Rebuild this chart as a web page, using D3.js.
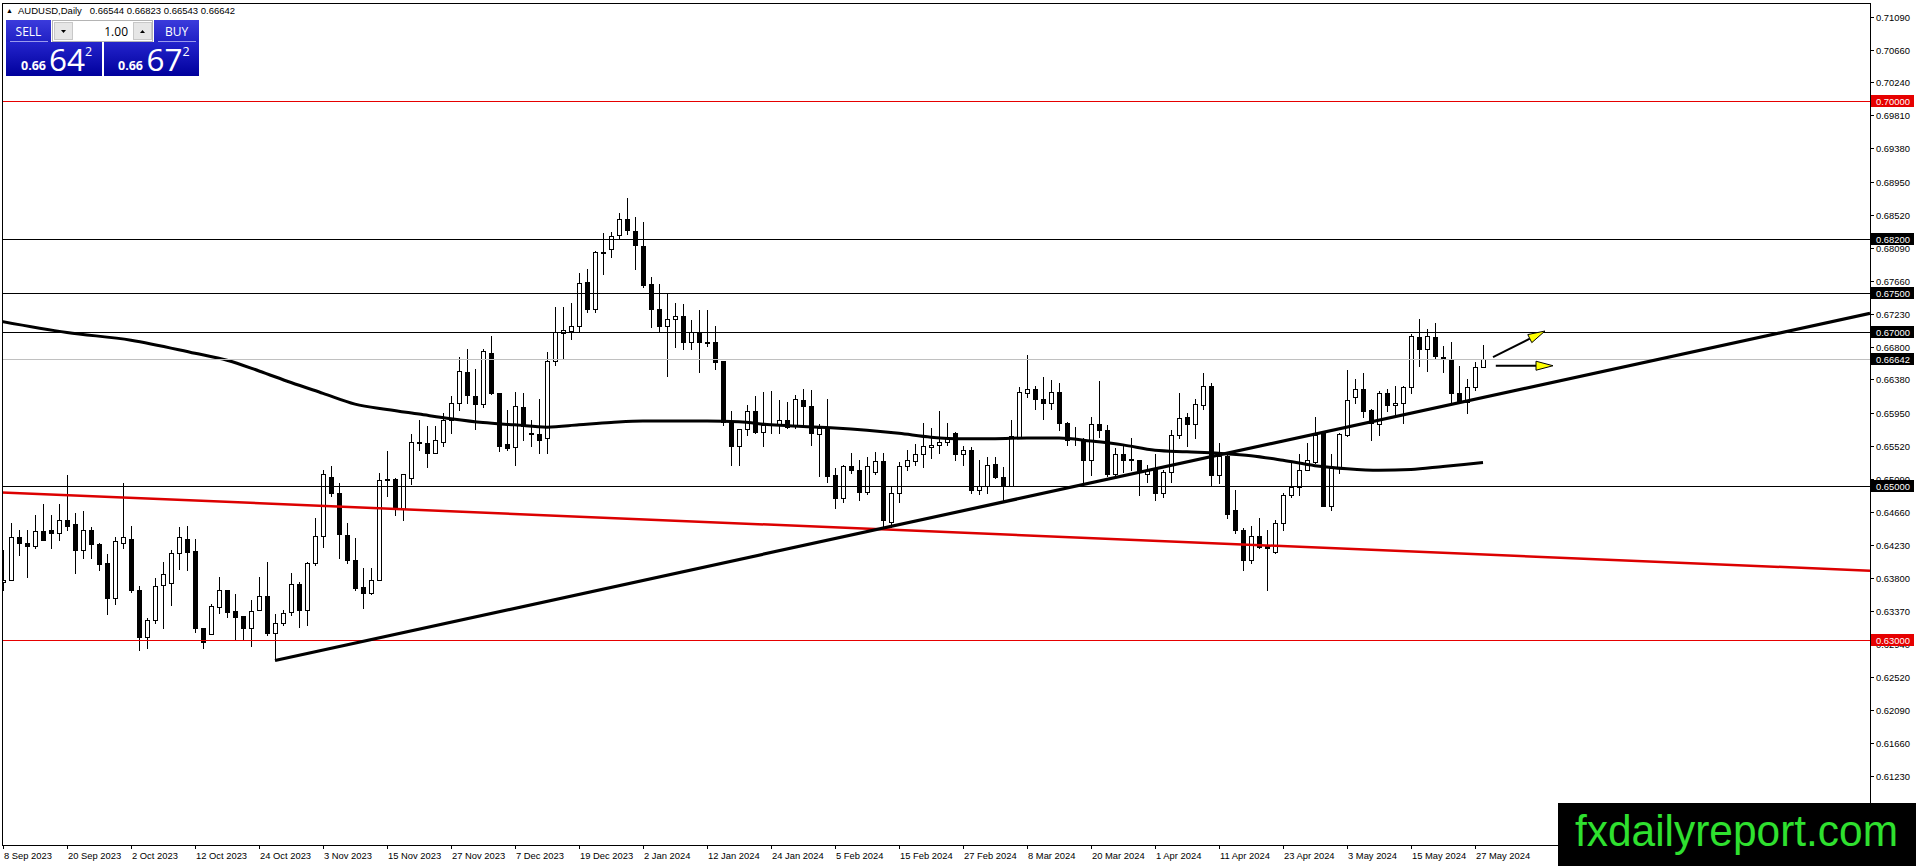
<!DOCTYPE html>
<html lang="en">
<head>
<meta charset="UTF-8">
<title>AUDUSD,Daily</title>
<script src="https://d3js.org/d3.v7.min.js"></script>
<style>
  body { margin: 0; background: #fff; overflow: hidden; }
  svg { display: block; font-family: "Liberation Sans", Arial, sans-serif; }
</style>
</head>
<body>
<svg id="chart" width="1916" height="866"></svg>
<script>
// daily candles, first bar = 8 Sep 2023, last bar = 28 May 2024
const opens = [
  0.6375,0.6378,0.6434,0.6426,0.6422,0.6441,0.6443,0.6438,0.6455,0.6450,0.6417,0.6442,0.6424,0.6399,0.6354,0.6426,
  0.6431,0.6364,0.6303,0.6325,0.6371,0.6374,0.6412,0.6431,0.6415,0.6315,0.6308,0.6342,0.6365,0.6337,0.6331,0.6315,
  0.6338,0.6357,0.6309,0.6322,0.6336,0.6372,0.6338,0.6400,0.6435,0.6511,0.6491,0.6436,0.6404,0.6368,0.6361,0.6378,
  0.6507,0.6509,0.6470,0.6510,0.6557,0.6556,0.6543,0.6557,0.6585,0.6607,0.6648,0.6616,0.6606,0.6672,0.6620,0.6554,
  0.6550,0.6602,0.6569,0.6567,0.6562,0.6662,0.6698,0.6701,0.6707,0.6764,0.6730,0.6803,0.6807,0.6826,0.6846,0.6831,
  0.6811,0.6762,0.6730,0.6708,0.6716,0.6721,0.6686,0.6700,0.6687,0.6686,0.6662,0.6584,0.6552,0.6573,0.6597,0.6570,
  0.6579,0.6579,0.6585,0.6577,0.6611,0.6604,0.6567,0.6576,0.6514,0.6484,0.6525,0.6521,0.6492,0.6518,0.6532,0.6453,
  0.6491,0.6526,0.6532,0.6541,0.6550,0.6553,0.6557,0.6568,0.6541,0.6546,0.6495,0.6499,0.6528,0.6511,0.6500,0.6563,
  0.6620,0.6625,0.6613,0.6607,0.6622,0.6582,0.6562,0.6559,0.6533,0.6580,0.6572,0.6515,0.6541,0.6535,0.6533,0.6515,
  0.6523,0.6490,0.6518,0.6566,0.6589,0.6580,0.6605,0.6629,0.6514,0.6539,0.6468,0.6443,0.6403,0.6435,0.6422,0.6414,
  0.6451,0.6488,0.6498,0.6520,0.6531,0.6568,0.6474,0.6523,0.6566,0.6615,0.6625,0.6598,0.6580,0.6620,0.6605,0.6608,
  0.6628,0.6693,0.6678,0.6693,0.6667,0.6665,0.6620,0.6609,0.6628,0.66544
];
const highs = [
  0.6417,0.6451,0.6442,0.6442,0.6462,0.6476,0.6462,0.6476,0.6514,0.6464,0.6467,0.6447,0.6426,0.6411,0.6434,0.6504,
  0.6448,0.6370,0.6328,0.6380,0.6401,0.6417,0.6446,0.6448,0.6431,0.6315,0.6347,0.6382,0.6365,0.6359,0.6331,0.6352,
  0.6382,0.6401,0.6333,0.6338,0.6386,0.6375,0.6401,0.6458,0.6520,0.6525,0.6504,0.6451,0.6432,0.6393,0.6393,0.6516,
  0.6545,0.6510,0.6515,0.6567,0.6585,0.6577,0.6577,0.6594,0.6616,0.6667,0.6677,0.6652,0.6677,0.6694,0.6621,0.6598,
  0.6622,0.6621,0.6585,0.6612,0.6674,0.6732,0.6732,0.6737,0.6776,0.6781,0.6805,0.6828,0.6829,0.6854,0.6873,0.6849,
  0.6842,0.6771,0.6762,0.6750,0.6737,0.6736,0.6715,0.6728,0.6728,0.6707,0.6662,0.6597,0.6574,0.6605,0.6616,0.6622,
  0.6623,0.6611,0.6609,0.6618,0.6626,0.6624,0.6580,0.6613,0.6523,0.6527,0.6542,0.6533,0.6537,0.6544,0.6542,0.6499,
  0.6531,0.6546,0.6554,0.6581,0.6575,0.6597,0.6582,0.6570,0.6551,0.6550,0.6533,0.6537,0.6537,0.6524,0.6585,0.6628,
  0.6670,0.6630,0.6641,0.6637,0.6634,0.6583,0.6576,0.6562,0.6589,0.6636,0.6579,0.6549,0.6551,0.6562,0.6533,0.6527,
  0.6541,0.6520,0.6572,0.6620,0.6594,0.6613,0.6646,0.6633,0.6555,0.6544,0.6495,0.6445,0.6448,0.6458,0.6442,0.6456,
  0.6491,0.6529,0.6541,0.6556,0.6589,0.6570,0.6541,0.6569,0.6650,0.6639,0.6646,0.6600,0.6623,0.6625,0.6629,0.6630,
  0.6697,0.6716,0.6704,0.6711,0.6681,0.6687,0.6655,0.6638,0.6661,0.66823
];
const lows = [
  0.6365,0.6377,0.6410,0.6382,0.6419,0.6429,0.6419,0.6429,0.6442,0.6387,0.6406,0.6406,0.6390,0.6333,0.6347,0.6419,
  0.6362,0.6287,0.6289,0.6322,0.6315,0.6345,0.6392,0.6390,0.6310,0.6289,0.6308,0.6335,0.6330,0.6299,0.6300,0.6292,
  0.6338,0.6306,0.6273,0.6319,0.6332,0.6317,0.6319,0.6397,0.6421,0.6486,0.6406,0.6399,0.6364,0.6341,0.6359,0.6377,
  0.6486,0.6462,0.6455,0.6502,0.6546,0.6524,0.6542,0.6552,0.6569,0.6598,0.6608,0.6573,0.6602,0.6619,0.6545,0.6547,
  0.6527,0.6560,0.6552,0.6542,0.6542,0.6657,0.6664,0.6691,0.6701,0.6726,0.6726,0.6775,0.6797,0.6820,0.6827,0.6782,
  0.6758,0.6706,0.6699,0.6642,0.6680,0.6678,0.6678,0.6648,0.6681,0.6652,0.6579,0.6527,0.6527,0.6566,0.6568,0.6552,
  0.6568,0.6568,0.6575,0.6575,0.6577,0.6553,0.6512,0.6505,0.6471,0.6479,0.6517,0.6482,0.6489,0.6515,0.6447,0.6447,
  0.6479,0.6521,0.6527,0.6524,0.6536,0.6542,0.6553,0.6533,0.6527,0.6491,0.6489,0.6491,0.6510,0.6479,0.6499,0.6563,
  0.6615,0.6599,0.6586,0.6600,0.6572,0.6553,0.6553,0.6505,0.6514,0.6563,0.6512,0.6513,0.6518,0.6520,0.6488,0.6505,
  0.6481,0.6485,0.6505,0.6562,0.6551,0.6562,0.6599,0.6500,0.6504,0.6458,0.6439,0.6391,0.6400,0.6419,0.6365,0.6413,
  0.6443,0.6485,0.6488,0.6520,0.6530,0.6473,0.6468,0.6516,0.6564,0.6607,0.6589,0.6559,0.6566,0.6597,0.6592,0.6581,
  0.6621,0.6655,0.6649,0.6664,0.6648,0.6609,0.6607,0.6594,0.6624,0.66543
];
const closes = [
  0.6378,0.6434,0.6426,0.6422,0.6441,0.6430,0.6438,0.6455,0.6448,0.6416,0.6442,0.6424,0.6398,0.6354,0.6428,0.6434,
  0.6364,0.6303,0.6326,0.6370,0.6385,0.6412,0.6433,0.6414,0.6315,0.6297,0.6344,0.6365,0.6336,0.6329,0.6315,0.6337,
  0.6357,0.6309,0.6322,0.6335,0.6372,0.6338,0.6400,0.6435,0.6515,0.6490,0.6437,0.6404,0.6367,0.6361,0.6378,0.6508,
  0.6509,0.6470,0.6515,0.6557,0.6556,0.6543,0.6559,0.6585,0.6607,0.6649,0.6618,0.6606,0.6675,0.6620,0.6552,0.6549,
  0.6603,0.6578,0.6568,0.6560,0.6662,0.6699,0.6702,0.6707,0.6763,0.6730,0.6803,0.6802,0.6824,0.6847,0.6832,0.6812,
  0.6761,0.6730,0.6707,0.6716,0.6721,0.6687,0.6700,0.6687,0.6686,0.6661,0.6583,0.6552,0.6573,0.6597,0.6570,0.6579,
  0.6580,0.6585,0.6576,0.6612,0.6603,0.6568,0.6575,0.6512,0.6484,0.6525,0.6521,0.6492,0.6526,0.6532,0.6455,0.6491,
  0.6526,0.6533,0.6541,0.6551,0.6553,0.6557,0.6562,0.6541,0.6546,0.6495,0.6499,0.6527,0.6511,0.6500,0.6565,0.6622,
  0.6625,0.6612,0.6607,0.6622,0.6582,0.6560,0.6561,0.6533,0.6580,0.6572,0.6515,0.6541,0.6534,0.6534,0.6518,0.6520,
  0.6490,0.6518,0.6566,0.6588,0.6580,0.6606,0.6629,0.6514,0.6539,0.6463,0.6443,0.6403,0.6435,0.6421,0.6419,0.6451,
  0.6488,0.6498,0.6520,0.6534,0.6566,0.6474,0.6523,0.6567,0.6611,0.6626,0.6597,0.6582,0.6620,0.6605,0.6608,0.6628,
  0.6694,0.6678,0.6694,0.6668,0.6666,0.6620,0.6609,0.6628,0.6654,0.66642
];

// time axis labels, one every 8 bars starting at bar 0
const dateLabels = [
  "8 Sep 2023", "20 Sep 2023", "2 Oct 2023", "12 Oct 2023", "24 Oct 2023", "3 Nov 2023",
  "15 Nov 2023", "27 Nov 2023", "7 Dec 2023", "19 Dec 2023", "2 Jan 2024", "12 Jan 2024",
  "24 Jan 2024", "5 Feb 2024", "15 Feb 2024", "27 Feb 2024", "8 Mar 2024", "20 Mar 2024",
  "1 Apr 2024", "11 Apr 2024", "23 Apr 2024", "3 May 2024", "15 May 2024", "27 May 2024"
];
const priceTicks = [
  "0.71090", "0.70660", "0.70240", "0.69810", "0.69380", "0.68950", "0.68520", "0.68090",
  "0.67660", "0.67230", "0.66800", "0.66380", "0.65950", "0.65520", "0.65090", "0.64660",
  "0.64230", "0.63800", "0.63370", "0.62940", "0.62520", "0.62090", "0.61660", "0.61230", "0.60800"
];

// moving average (bar index, value)
const maBars = [-1, 8, 16, 24, 28, 32, 36, 40, 44, 48, 52, 56, 60, 64, 68, 72, 76, 80, 84, 88, 92, 96,
  100, 104, 108, 112, 116, 120, 124, 128, 132, 136, 140, 144, 148, 152, 156, 160, 164, 168, 172, 176, 180, 185];
const maValues = [0.6715, 0.6699, 0.6689, 0.6672, 0.6663, 0.6649, 0.6634, 0.6620, 0.6606, 0.6599, 0.6593,
  0.6587, 0.6582, 0.6579, 0.6576, 0.6579, 0.6582, 0.6584, 0.6584, 0.6584, 0.6583, 0.6579, 0.6577, 0.6575,
  0.6572, 0.6568, 0.6563, 0.6561, 0.6561, 0.6562, 0.6562, 0.6558, 0.6553, 0.6546, 0.6544, 0.6542, 0.6539,
  0.6533, 0.6526, 0.6522, 0.6520, 0.6521, 0.6525, 0.6530];

// drawn objects
const redLevels = [0.70000, 0.63000];
const blackLevels = [0.68200, 0.67500, 0.67000, 0.65000];
const bidPrice = 0.66642;
const supportBars = [34, 233.375];
const supportPrices = [0.6273, 0.67239];
const resistBars = [-0.375, 233.375];
const resistPrices = [0.64913, 0.63896];
const arrowBars = [[186.25, 192.75], [186.6, 193.75]];
const arrowPrices = [[0.66671, 0.67009], [0.66558, 0.66558]];

const W = 1916, H = 866;
const plotLeft = 2, plotTop = 3, plotRight = 1870, plotBottom = 845;

const svg = d3.select("#chart");
svg.append("rect").attr("width", W).attr("height", H).attr("fill", "#fff");

const x = d3.scaleLinear().domain([-0.375, 233.375]).range([0, plotRight]);
const y = d3.scaleLinear().domain([0.603338, 0.712688]).range([plotBottom, plotTop]);
const px = v => Math.round(v) + 0.5;

const defs = svg.append("defs");
defs.append("clipPath").attr("id", "plot")
  .append("rect").attr("x", plotLeft).attr("y", plotTop)
  .attr("width", plotRight - plotLeft).attr("height", plotBottom - plotTop);
const gTop = defs.append("linearGradient").attr("id", "blueTop").attr("x1", 0).attr("y1", 0).attr("x2", 0).attr("y2", 1);
gTop.append("stop").attr("offset", "0%").attr("stop-color", "#3b3bdc");
gTop.append("stop").attr("offset", "100%").attr("stop-color", "#2020c4");
const gBig = defs.append("linearGradient").attr("id", "blueBig").attr("x1", 0).attr("y1", 0).attr("x2", 0).attr("y2", 1);
gBig.append("stop").attr("offset", "0%").attr("stop-color", "#2424cc");
gBig.append("stop").attr("offset", "100%").attr("stop-color", "#00009c");

const plot = svg.append("g").attr("clip-path", "url(#plot)");

// candles
const candles = opens.map((o, i) => ({ i, o, h: highs[i], l: lows[i], c: closes[i] }));
const cg = plot.append("g").attr("shape-rendering", "crispEdges");
cg.selectAll("line.wick").data(candles).enter().append("line")
  .attr("class", "wick")
  .attr("x1", d => x(d.i) + 0.5).attr("x2", d => x(d.i) + 0.5)
  .attr("y1", d => Math.round(y(d.h))).attr("y2", d => Math.round(y(d.l)) + 1)
  .attr("stroke", "#000");
cg.selectAll("rect.body").data(candles).enter().append("rect")
  .attr("class", "body")
  .attr("x", d => x(d.i) - 1.5)
  .attr("width", 4)
  .attr("y", d => Math.round(y(Math.max(d.o, d.c))) + 0.5)
  .attr("height", d => Math.max(1, Math.abs(Math.round(y(d.o)) - Math.round(y(d.c)))))
  .attr("fill", d => d.c >= d.o ? "#fff" : "#000")
  .attr("stroke", "#000");

// moving average
const ma = maBars.map((b, i) => [b, maValues[i]]);
plot.append("path").datum(ma)
  .attr("d", d3.line().x(d => x(d[0])).y(d => y(d[1])).curve(d3.curveMonotoneX))
  .attr("fill", "none").attr("stroke", "#000").attr("stroke-width", 3);

// horizontal levels
const hl = plot.append("g").attr("shape-rendering", "crispEdges");
hl.selectAll("line.red").data(redLevels).enter().append("line")
  .attr("x1", plotLeft).attr("x2", plotRight).attr("y1", d => px(y(d))).attr("y2", d => px(y(d)))
  .attr("stroke", "#e60000");
hl.selectAll("line.black").data(blackLevels).enter().append("line")
  .attr("x1", plotLeft).attr("x2", plotRight).attr("y1", d => px(y(d))).attr("y2", d => px(y(d)))
  .attr("stroke", "#000");
hl.append("line")
  .attr("x1", plotLeft).attr("x2", plotRight).attr("y1", px(y(bidPrice))).attr("y2", px(y(bidPrice)))
  .attr("stroke", "#c0c0c0");

// trend lines
plot.append("line")
  .attr("x1", x(resistBars[0])).attr("y1", y(resistPrices[0]))
  .attr("x2", x(resistBars[1])).attr("y2", y(resistPrices[1]))
  .attr("stroke", "#dc0000").attr("stroke-width", 2.5);
plot.append("line")
  .attr("x1", x(supportBars[0])).attr("y1", y(supportPrices[0]))
  .attr("x2", x(supportBars[1])).attr("y2", y(supportPrices[1]))
  .attr("stroke", "#000").attr("stroke-width", 3.2);

// arrows
arrowBars.forEach((bars, i) => {
  const x0 = x(bars[0]), y0 = y(arrowPrices[i][0]);
  const x1 = x(bars[1]), y1 = y(arrowPrices[i][1]);
  const a = Math.atan2(y1 - y0, x1 - x0);
  const len = 17, half = 4.5;
  const bx = x1 - len * Math.cos(a), by = y1 - len * Math.sin(a);
  const nx = -Math.sin(a) * half, ny = Math.cos(a) * half;
  plot.append("line").attr("x1", x0).attr("y1", y0).attr("x2", bx).attr("y2", by)
    .attr("stroke", "#000").attr("stroke-width", 2);
  plot.append("polygon")
    .attr("points", [[x1, y1], [bx + nx, by + ny], [bx - nx, by - ny]].map(p => p.join(",")).join(" "))
    .attr("fill", "#ffff00").attr("stroke", "#000").attr("stroke-width", 1);
});

// frame
svg.append("rect")
  .attr("x", plotLeft + 0.5).attr("y", plotTop + 0.5)
  .attr("width", plotRight - plotLeft).attr("height", plotBottom - plotTop)
  .attr("fill", "none").attr("stroke", "#000").attr("shape-rendering", "crispEdges");

// price axis
const ya = svg.append("g").attr("font-size", 9.4).attr("fill", "#000");
priceTicks.forEach(t => {
  const yy = Math.round(y(+t));
  ya.append("line").attr("x1", plotRight).attr("x2", plotRight + 4).attr("y1", yy + 0.5).attr("y2", yy + 0.5)
    .attr("stroke", "#000").attr("shape-rendering", "crispEdges");
  ya.append("text").attr("x", plotRight + 6).attr("y", yy + 4).text(t);
});
const tags = redLevels.map(v => ({ v, bg: "#e60000" }))
  .concat(blackLevels.map(v => ({ v, bg: "#000" })), [{ v: bidPrice, bg: "#000" }]);
tags.forEach(t => {
  const yy = Math.round(y(t.v));
  ya.append("rect").attr("x", plotRight + 1).attr("y", yy - 6).attr("width", 43).attr("height", 12).attr("fill", t.bg);
  ya.append("text").attr("x", plotRight + 6).attr("y", yy + 4).attr("fill", "#fff").text(t.v.toFixed(5));
});

// time axis
const xa = svg.append("g").attr("font-size", 9.4).attr("fill", "#000");
dateLabels.forEach((lab, j) => {
  const xx = x(j * 8);
  xa.append("line").attr("x1", xx + 0.5).attr("x2", xx + 0.5).attr("y1", plotBottom).attr("y2", plotBottom + 4)
    .attr("stroke", "#000").attr("shape-rendering", "crispEdges");
  xa.append("text").attr("x", xx + 1).attr("y", plotBottom + 14).text(lab);
});

// header
svg.append("text").attr("x", 6).attr("y", 13).attr("font-size", 7).text("\u25B2");
svg.append("text").attr("x", 18).attr("y", 14).attr("font-size", 9.5)
  .text("AUDUSD,Daily\u00A0\u00A0 0.66544 0.66823 0.66543 0.66642");

// one click trading panel
const panel = svg.append("g").attr("shape-rendering", "crispEdges");
panel.append("rect").attr("x", 6).attr("y", 20).attr("width", 45).attr("height", 22).attr("fill", "url(#blueTop)");
panel.append("rect").attr("x", 154).attr("y", 20).attr("width", 45).attr("height", 22).attr("fill", "url(#blueTop)");
panel.append("rect").attr("x", 6).attr("y", 42).attr("width", 96).attr("height", 34).attr("fill", "url(#blueBig)");
panel.append("rect").attr("x", 104).attr("y", 42).attr("width", 95).attr("height", 34).attr("fill", "url(#blueBig)");
panel.append("line").attr("x1", 10).attr("x2", 48).attr("y1", 41.5).attr("y2", 41.5).attr("stroke", "#9a9aee");
panel.append("line").attr("x1", 158).attr("x2", 196).attr("y1", 41.5).attr("y2", 41.5).attr("stroke", "#9a9aee");
panel.append("rect").attr("x", 52.5).attr("y", 20.5).attr("width", 100).attr("height", 21)
  .attr("fill", "#fff").attr("stroke", "#b4b4b4");
panel.append("rect").attr("x", 54.5).attr("y", 22.5).attr("width", 18).attr("height", 17)
  .attr("fill", "#e6e6e6").attr("stroke", "#c8c8c8");
panel.append("rect").attr("x", 133.5).attr("y", 22.5).attr("width", 18).attr("height", 17)
  .attr("fill", "#e6e6e6").attr("stroke", "#c8c8c8");
svg.append("path").attr("d", "M61,30 L66,30 L63.5,33 Z").attr("fill", "#000");
svg.append("path").attr("d", "M140,33 L145,33 L142.5,30 Z").attr("fill", "#000");
svg.append("text").attr("x", 128).attr("y", 36).attr("text-anchor", "end")
  .attr("font-family", "'Open Sans', sans-serif").attr("font-size", 12).text("1.00");

const white = svg.append("g").attr("fill", "#fff").attr("font-family", "'Open Sans', sans-serif");
white.append("text").attr("x", 28.5).attr("y", 36).attr("text-anchor", "middle").attr("font-size", 12).text("SELL");
white.append("text").attr("x", 176.5).attr("y", 36).attr("text-anchor", "middle").attr("font-size", 12).text("BUY");
[[21, 49, 85, "64"], [118, 146.5, 182.5, "67"]].forEach(([a, b, c, big]) => {
  white.append("text").attr("x", a).attr("y", 70).attr("font-size", 12.5).attr("font-weight", "bold").text("0.66");
  white.append("text").attr("x", b).attr("y", 70.5).attr("font-size", 31.5).text(big);
  white.append("text").attr("x", c).attr("y", 56).attr("font-size", 12.5).text("2");
});

// watermark
svg.append("rect").attr("x", 1558).attr("y", 803).attr("width", W - 1558).attr("height", H - 803).attr("fill", "#000");
svg.append("text").attr("x", 1575).attr("y", 846).attr("font-size", 44)
  .attr("textLength", 323).attr("lengthAdjust", "spacingAndGlyphs")
  .attr("fill", "#2fe02f").text("fxdailyreport.com");
</script>
</body>
</html>
